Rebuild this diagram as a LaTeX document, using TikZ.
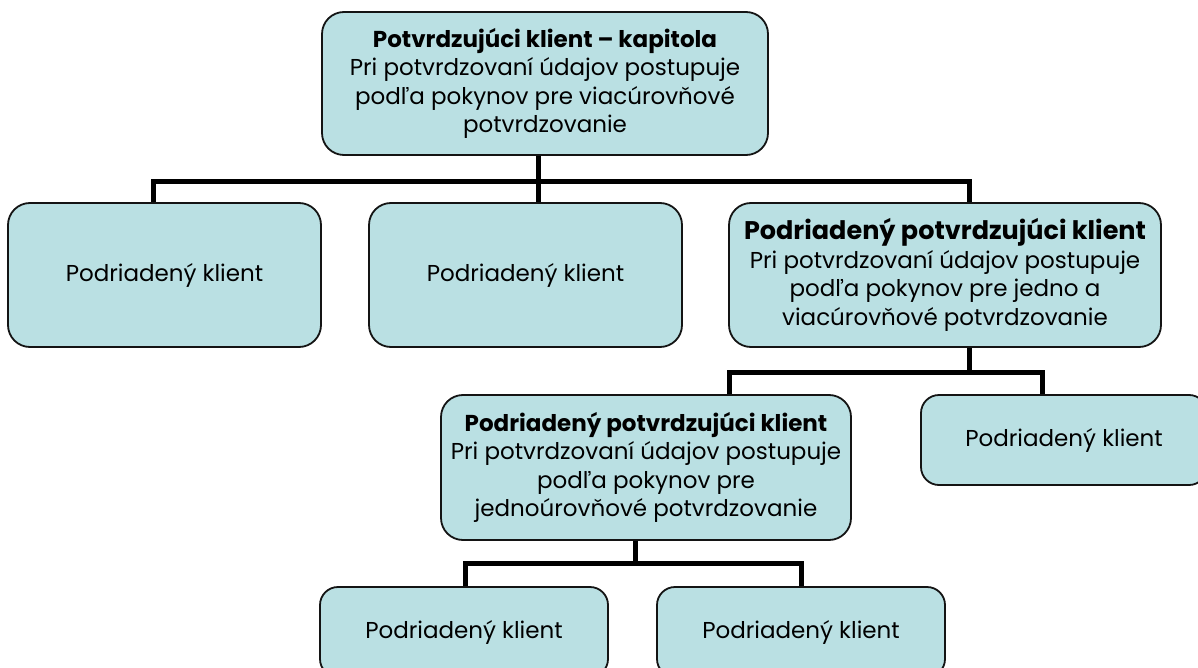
\documentclass[tikz,border=0pt]{standalone}
\usepackage{fontspec}
\setmainfont{Poppins}
\definecolor{boxfill}{RGB}{186,224,227}
\definecolor{boxline}{RGB}{20,20,20}
\begin{document}
\begin{tikzpicture}[x=1pt,y=-1pt,
  box/.style={draw=boxline, line width=1.8pt, fill=boxfill, rounded corners=22pt,
    inner sep=0pt, align=center, font=\fontsize{23}{28.5}\selectfont, text=black},
  smallbox/.style={box, rounded corners=18pt},
  conn/.style={line width=5pt, draw=black, line join=miter}]
\path[use as bounding box, clip] (0,0) rectangle (1198,668);
\fill[white] (0,0) rectangle (1198,668);

% junction points of the connectors
\coordinate (j1m) at (538,182);
\coordinate (j1l) at (153,182);
\coordinate (j1r) at (969,182);
\coordinate (j2l) at (729,372);
\coordinate (j2r) at (1042,372);
\coordinate (j2m) at (969,372);
\coordinate (j3l) at (465,563);
\coordinate (j3r) at (801,563);
\coordinate (j3m) at (635,563);

\node[box, minimum width=446pt, minimum height=143pt] (top) at (545,83.5)
 {\textbf{Potvrdzujúci klient – kapitola}\\Pri potvrdzovaní údajov postupuje\\podľa pokynov pre viacúrovňové\\potvrdzovanie};
\node[box, minimum width=313pt, minimum height=144pt] (b1) at (164.5,275) {Podriadený klient};
\node[box, minimum width=313pt, minimum height=144pt] (b2) at (525.5,275) {Podriadený klient};
\node[box, minimum width=432pt, minimum height=144pt] (b3) at (945,275)
 {{\fontsize{25.5}{28.5}\selectfont\textbf{Podriadený potvrdzujúci klient}}\\Pri potvrdzovaní údajov postupuje\\podľa pokynov pre jedno a\\viacúrovňové potvrdzovanie};
\node[box, minimum width=410pt, minimum height=145pt] (b4) at (646,467.5)
 {\textbf{Podriadený potvrdzujúci klient}\\Pri potvrdzovaní údajov postupuje\\podľa pokynov pre\\jednoúrovňové potvrdzovanie};
\node[smallbox, minimum width=286pt, minimum height=90pt] (b5) at (1064,440) {Podriadený klient};
\node[smallbox, minimum width=288pt, minimum height=90pt] (b6) at (464,632) {Podriadený klient};
\node[smallbox, minimum width=288pt, minimum height=90pt] (b7) at (801,632) {Podriadený klient};

\draw[conn] (top.south -| j1m) -- (b2.north -| j1m);
\draw[conn] (b1.north -| j1l) -- (j1l) -- (j1r) -- (b3.north -| j1r);
\draw[conn] (b3.south -| j2m) -- (j2m);
\draw[conn] (b4.north -| j2l) -- (j2l) -- (j2r) -- (b5.north -| j2r);
\draw[conn] (b4.south -| j3m) -- (j3m);
\draw[conn] (b6.north -| j3l) -- (j3l) -- (j3r) -- (b7.north -| j3r);
\end{tikzpicture}
\end{document}
